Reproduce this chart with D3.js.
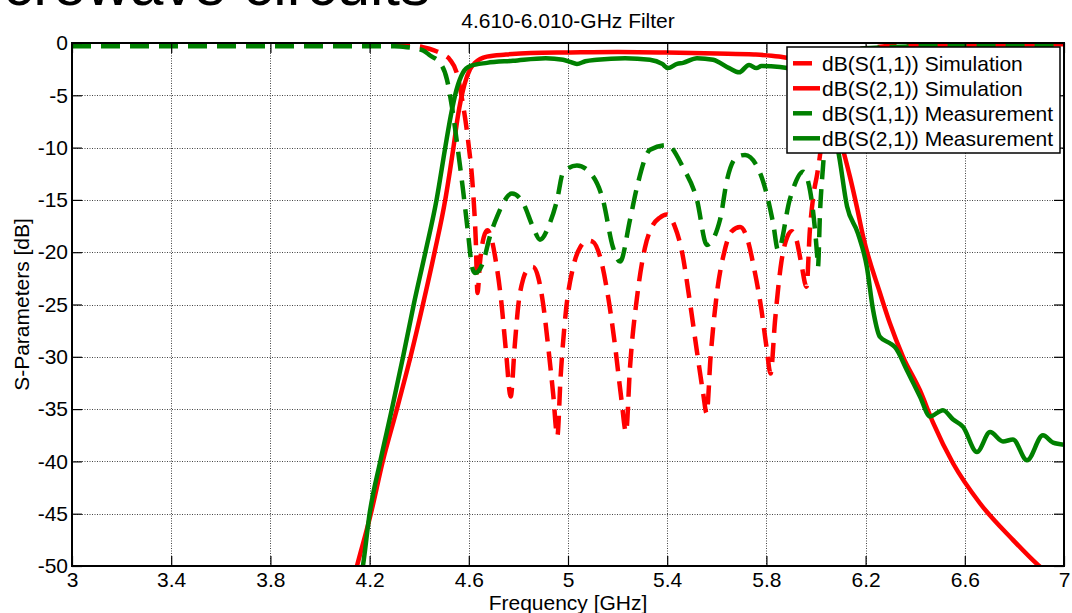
<!DOCTYPE html>
<html lang="en">
<head>
<meta charset="utf-8">
<title>4.610-6.010-GHz Filter</title>
<script src="https://cdn.jsdelivr.net/npm/d3@7"></script>
<style>
  body { margin: 0; background: #fff; }
  text { font-family: "Liberation Sans", Arial, sans-serif; }
</style>
</head>
<body>
<svg id="chart" width="1072" height="613"></svg>
<script>
// data: [frequency GHz, dB]
var s11Sim = [
  [3.0,-0.12],[3.5,-0.12],[4.0,-0.12],[4.3,-0.15],[4.35,-0.2],[4.415,-0.4],[4.46,-0.7],
  [4.496,-1.1],[4.524,-1.6],[4.552,-2.9],[4.573,-5.4],[4.597,-9.3],[4.617,-14.1],
  [4.628,-18.8],[4.635,-23.9],[4.645,-21],[4.66,-18.6],[4.675,-17.9],[4.69,-18.6],
  [4.71,-21],[4.73,-24.5],[4.75,-29.5],[4.769,-33.8],[4.785,-29],[4.80,-25],
  [4.82,-22.5],[4.84,-21.6],[4.858,-21.4],[4.88,-22.4],[4.90,-25],[4.92,-29],
  [4.94,-33.5],[4.957,-37.6],[4.97,-32],[4.99,-26],[5.02,-21.5],[5.05,-19.5],
  [5.08,-18.9],[5.10,-19.0],[5.13,-20.5],[5.16,-24],[5.19,-29],[5.215,-34],
  [5.234,-37.2],[5.25,-31],[5.28,-24],[5.31,-19.6],[5.34,-17.5],[5.37,-16.7],
  [5.398,-16.4],[5.43,-17.5],[5.46,-20],[5.49,-24.5],[5.52,-29.5],[5.545,-33.5],
  [5.559,-35.4],[5.575,-30],[5.60,-24],[5.63,-20],[5.66,-18],[5.694,-17.6],
  [5.72,-18.5],[5.75,-21.5],[5.78,-25.5],[5.80,-29],[5.817,-31.6],[5.835,-26.5],
  [5.86,-21],[5.885,-18.5],[5.902,-18.0],[5.92,-18.7],[5.94,-21],[5.962,-23.3],
  [5.975,-18],[5.99,-14.5],[6.005,-12.5],[6.02,-10],[6.04,-5],[6.07,-2.5],
  [6.12,-1.2],[6.2,-0.5],[6.4,-0.2],[7.0,-0.12]
];
var s21Sim = [
  [4.10,-54.5],[4.149,-50],[4.205,-45],[4.253,-40],[4.31,-35],[4.365,-30],
  [4.415,-25],[4.462,-20],[4.505,-15],[4.538,-10],[4.556,-7],[4.582,-4],
  [4.605,-2.5],[4.625,-1.9],[4.673,-1.3],[4.75,-1.1],[4.85,-0.95],[5.0,-0.9],
  [5.2,-0.85],[5.4,-0.9],[5.6,-1.0],[5.75,-1.1],[5.85,-1.3],[5.95,-1.8],[6.0,-2.8],
  [6.05,-5.2],[6.109,-10.2],[6.137,-12.8],[6.165,-15.7],[6.19,-18.5],[6.258,-23.9],
  [6.298,-26.8],[6.351,-30.0],[6.419,-33.2],[6.472,-36.3],[6.553,-40.2],
  [6.661,-44.0],[6.794,-47.5],[6.895,-49.9],[6.95,-51]
];
var s11Meas = [
  [3.0,-0.3],[3.5,-0.3],[4.0,-0.3],[4.3,-0.3],[4.35,-0.4],[4.415,-0.7],[4.444,-1.2],
  [4.484,-1.9],[4.512,-3.5],[4.532,-6.1],[4.556,-10.2],[4.577,-14.1],[4.597,-18.2],
  [4.613,-21.4],[4.625,-22.0],[4.657,-21.0],[4.685,-18.5],[4.714,-16.6],[4.774,-14.4],
  [4.819,-15.3],[4.859,-17.6],[4.887,-18.8],[4.927,-17.2],[4.956,-15.0],[4.98,-12.4],
  [5.036,-11.7],[5.089,-12.4],[5.141,-15.0],[5.181,-19.5],[5.21,-20.9],[5.25,-16.9],
  [5.278,-13.8],[5.331,-10.2],[5.399,-9.75],[5.464,-11.9],[5.52,-15.0],[5.56,-19.3],
  [5.613,-16.9],[5.641,-13.1],[5.681,-10.9],[5.714,-10.7],[5.774,-12.4],[5.827,-17.2],
  [5.847,-19.8],[5.895,-14.9],[5.948,-12.3],[5.976,-14.1],[6.004,-20.1],[6.008,-21.4],
  [6.016,-16.3],[6.028,-11.9],[6.05,-6],[6.08,-2.5],[6.13,-1.0],[6.2,-0.5],
  [6.5,-0.3],[7.0,-0.3]
];
var s21Meas = [
  [4.13,-54],[4.173,-50],[4.2,-45],[4.243,-40],[4.29,-35],[4.335,-30],
  [4.378,-25],[4.425,-20],[4.47,-15],[4.505,-10],[4.527,-7],[4.55,-4.5],
  [4.577,-2.8],[4.605,-2.2],[4.673,-1.9],[4.778,-1.7],[4.91,-1.45],[4.98,-1.6],
  [5.008,-1.8],[5.036,-2.0],[5.07,-1.75],[5.117,-1.6],[5.23,-1.45],[5.33,-1.6],
  [5.38,-2.0],[5.403,-2.4],[5.44,-2.0],[5.464,-1.9],[5.52,-1.45],[5.585,-1.6],
  [5.65,-2.4],[5.69,-2.8],[5.73,-2.1],[5.76,-2.4],[5.78,-2.2],[5.855,-2.3],
  [5.95,-2.9],[6.0,-4.2],[6.05,-7.8],[6.089,-10.3],[6.125,-15.6],[6.169,-18.2],
  [6.205,-21.4],[6.23,-25.5],[6.258,-28.1],[6.298,-28.7],[6.319,-29.1],[6.367,-31.3],
  [6.419,-33.8],[6.46,-35.7],[6.512,-35.1],[6.553,-36.0],[6.593,-36.7],[6.649,-39.1],
  [6.702,-37.2],[6.754,-38.1],[6.794,-37.9],[6.851,-39.9],[6.915,-37.5],[6.956,-38.2],
  [7.0,-38.4]
];

var xTicks = [3, 3.4, 3.8, 4.2, 4.6, 5, 5.4, 5.8, 6.2, 6.6, 7];
var yTicks = [0, -5, -10, -15, -20, -25, -30, -35, -40, -45, -50];

var seriesNames = [
  "dB(S(1,1)) Simulation",
  "dB(S(2,1)) Simulation",
  "dB(S(1,1)) Measurement",
  "dB(S(2,1)) Measurement"
];
var seriesData = [s11Sim, s21Sim, s11Meas, s21Meas];
var seriesColors = ["#ff0000", "#ff0000", "#008000", "#008000"];
var seriesDashed = [true, false, true, false];

var titleText = "4.610-6.010-GHz Filter";
var xLabel = "Frequency [GHz]";
var yLabel = "S-Parameters [dB]";
var pageHeading = "Microwave circuits";

var plotL = 72, plotR = 1064, plotT = 43, plotB = 566;
var fontSize = 21;
var dash = "19,10";
var lineW = 4.5;

var svg = d3.select("#chart");

// heading of the slide behind, mostly cut off at the top
svg.append("text")
  .attr("x", 430).attr("y", 5)
  .attr("text-anchor", "end")
  .attr("font-size", 60)
  .text(pageHeading);

var x = d3.scaleLinear().domain([3, 7]).range([plotL, plotR]);
var y = d3.scaleLinear().domain([-50, 0]).range([plotB, plotT]);

svg.append("defs").append("clipPath").attr("id", "plotclip")
  .append("rect")
  .attr("x", plotL).attr("y", plotT)
  .attr("width", plotR - plotL).attr("height", plotB - plotT);

// grid
var grid = svg.append("g")
  .attr("stroke", "#444")
  .attr("stroke-width", 1)
  .attr("stroke-dasharray", "1,1.5");
grid.selectAll("line.gx")
  .data(xTicks.slice(1, -1))
  .enter().append("line")
  .attr("x1", function(d) { return Math.round(x(d)) + 0.5; })
  .attr("x2", function(d) { return Math.round(x(d)) + 0.5; })
  .attr("y1", plotT).attr("y2", plotB);
grid.selectAll("line.gy")
  .data(yTicks.slice(1, -1))
  .enter().append("line")
  .attr("y1", function(d) { return Math.round(y(d)) + 0.5; })
  .attr("y2", function(d) { return Math.round(y(d)) + 0.5; })
  .attr("x1", plotL).attr("x2", plotR);

// curves
var line = d3.line()
  .x(function(d) { return x(d[0]); })
  .y(function(d) { return y(d[1]); })
  .curve(d3.curveMonotoneX);

svg.append("g")
  .attr("clip-path", "url(#plotclip)")
  .selectAll("path")
  .data(seriesData)
  .enter().append("path")
  .attr("d", line)
  .attr("fill", "none")
  .attr("stroke", function(d, i) { return seriesColors[i]; })
  .attr("stroke-width", lineW)
  .attr("stroke-linejoin", "round")
  .attr("stroke-dasharray", function(d, i) { return seriesDashed[i] ? dash : null; });

// axes, ticks pointing inward
function plain(d) { return String(d); }

function styleAxis(g) {
  g.attr("font-size", fontSize).attr("font-family", null);
  g.selectAll("path.domain").remove();
  g.selectAll(".tick line").attr("stroke", "#000").attr("stroke-width", 1.2);
  g.selectAll(".tick text").attr("fill", "#000");
}

svg.append("g")
  .attr("transform", "translate(0," + plotB + ")")
  .call(d3.axisBottom(x).tickValues(xTicks).tickSize(-10).tickPadding(6)
    .tickFormat(plain))
  .call(styleAxis);
svg.append("g")
  .attr("transform", "translate(0," + plotT + ")")
  .call(d3.axisTop(x).tickValues(xTicks).tickSize(-10).tickFormat(""))
  .call(styleAxis);
svg.append("g")
  .attr("transform", "translate(" + plotL + ",0)")
  .call(d3.axisLeft(y).tickValues(yTicks).tickSize(-10).tickPadding(4)
    .tickFormat(plain))
  .call(styleAxis);
svg.append("g")
  .attr("transform", "translate(" + plotR + ",0)")
  .call(d3.axisRight(y).tickValues(yTicks).tickSize(-10).tickFormat(""))
  .call(styleAxis);

svg.append("rect")
  .attr("x", plotL).attr("y", plotT)
  .attr("width", plotR - plotL).attr("height", plotB - plotT)
  .attr("fill", "none").attr("stroke", "#000").attr("stroke-width", 2);

// titles
svg.append("text")
  .attr("x", (plotL + plotR) / 2).attr("y", 28)
  .attr("text-anchor", "middle")
  .attr("font-size", fontSize)
  .text(titleText);
svg.append("text")
  .attr("x", (plotL + plotR) / 2).attr("y", 610)
  .attr("text-anchor", "middle")
  .attr("font-size", fontSize)
  .text(xLabel);
svg.append("text")
  .attr("transform", "translate(29," + (plotT + plotB) / 2 + ") rotate(-90)")
  .attr("text-anchor", "middle")
  .attr("font-size", fontSize)
  .text(yLabel);

// legend
var legend = svg.append("g").attr("transform", "translate(787,47)");
legend.append("rect")
  .attr("width", 273).attr("height", 106)
  .attr("fill", "#fff").attr("stroke", "#000").attr("stroke-width", 1.5);
var items = legend.selectAll("g.item")
  .data(seriesNames)
  .enter().append("g")
  .attr("transform", function(d, i) { return "translate(0," + (16.3 + i * 25) + ")"; });
items.append("line")
  .attr("x1", 6).attr("x2", 33).attr("y1", 0).attr("y2", 0)
  .attr("stroke", function(d, i) { return seriesColors[i]; })
  .attr("stroke-width", lineW)
  .attr("stroke-dasharray", function(d, i) { return seriesDashed[i] ? dash : null; });
items.append("text")
  .attr("x", 35).attr("dy", "0.35em")
  .attr("font-size", fontSize)
  .text(function(d) { return d; });
</script>
</body>
</html>
